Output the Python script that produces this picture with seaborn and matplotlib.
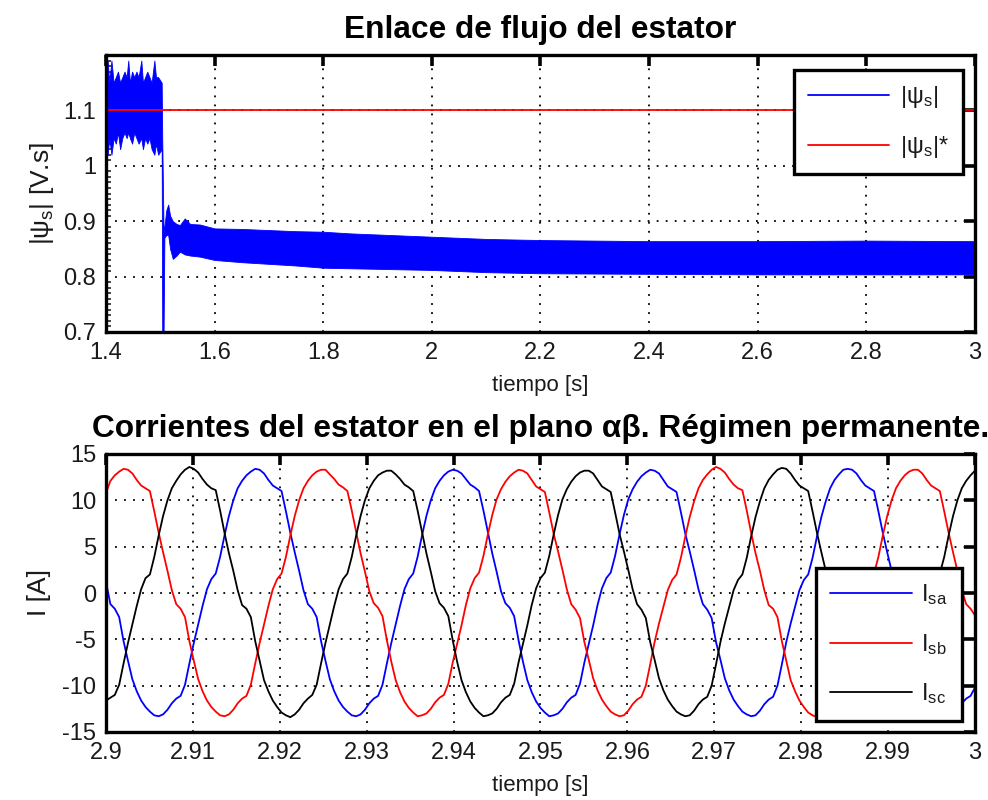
import numpy as np
import pandas as pd
import matplotlib
matplotlib.use("Agg")
import matplotlib.pyplot as plt
from matplotlib.lines import Line2D
from matplotlib.ticker import MultipleLocator, FormatStrFormatter
import seaborn as sns

# ---------------- stator flux magnitude (envelope of the ripple band) ----------------
flux_t = [1.400, 1.403, 1.406, 1.410, 1.414, 1.418, 1.422, 1.426, 1.430, 1.434,
          1.438, 1.441, 1.444, 1.448, 1.452, 1.456, 1.460, 1.465, 1.468, 1.472,
          1.476, 1.480, 1.484, 1.489, 1.492, 1.496, 1.5025, 1.5035, 1.5060, 1.5075,
          1.511, 1.5145, 1.518, 1.523, 1.530, 1.536, 1.545, 1.555, 1.573, 1.600,
          1.650, 1.700, 1.750, 1.800, 1.850, 1.900, 2.000, 2.100, 2.200, 2.400,
          2.600, 2.800, 3.000]
flux_hi = [1.16, 1.19, 1.15, 1.19, 1.15, 1.16, 1.17, 1.15, 1.16, 1.17,
           1.16, 1.19, 1.15, 1.17, 1.16, 1.17, 1.16, 1.19, 1.15, 1.16,
           1.17, 1.16, 1.15, 1.19, 1.16, 1.16, 1.15, 1.05, 0.88, 0.89,
           0.92, 0.93, 0.91, 0.90, 0.895, 0.893, 0.905, 0.895, 0.894, 0.887,
           0.886, 0.884, 0.882, 0.881, 0.878, 0.876, 0.872, 0.868, 0.866, 0.864,
           0.864, 0.865, 0.864]
flux_lo = [1.04, 1.02, 1.05, 1.02, 1.05, 1.04, 1.06, 1.03, 1.05, 1.06,
           1.05, 1.06, 1.05, 1.04, 1.06, 1.05, 1.04, 1.05, 1.03, 1.05,
           1.04, 1.05, 1.03, 1.02, 1.04, 1.02, 1.03, 0.70, 0.70, 0.87,
           0.875, 0.875, 0.85, 0.832, 0.838, 0.845, 0.84, 0.838, 0.836, 0.830,
           0.826, 0.823, 0.82, 0.816, 0.815, 0.814, 0.812, 0.808, 0.806, 0.805,
           0.804, 0.804, 0.804]
flux_ref = 1.1

# ---------------- stator phase currents, 2.9 s .. 3.0 s ----------------
i_sa = [1.2, -1.2, -1.7, -2.6, -5.2, -7.3, -9.3, -10.6, -11.6, -12.3,
        -12.8, -13.2, -13.3, -13.1, -12.6, -11.9, -11.4, -11.1, -9.9, -7.6,
        -5.4, -3.4, -1.4, 0.4, 1.5, 2.1, 3.9, 6.2, 8.3, 10.0, 11.3, 12.1, 12.7, 13.1,
        13.4, 13.3, 12.9, 12.2, 11.6, 11.3, 11.0, 8.8, 6.5, 4.4, 2.4, 0.3, -1.2, -1.7, -2.6,
        -5.2, -7.3, -9.3, -10.6, -11.6, -12.3, -12.8, -13.2, -13.3, -13.1, -12.6, -11.9, -11.4, -11.1, -9.9,
        -7.6, -5.4, -3.4, -1.4, 0.4, 1.5, 2.1, 3.9, 6.2, 8.3, 10.0, 11.3, 12.1, 12.7, 13.1,
        13.3, 13.2, 12.9, 12.3, 11.7, 11.4, 11.0, 8.9, 6.6, 4.3, 2.3, 0.2, -1.1, -1.6, -2.5,
        -5.1, -7.4, -9.4, -10.7, -11.7, -12.4, -12.9, -13.3, -13.2, -13.0, -12.5, -11.8, -11.3, -11.0, -9.8,
        -7.5, -5.5, -3.5, -1.3, 0.5, 1.6, 2.2, 4.0, 6.3, 8.4, 10.1, 11.2, 12.0, 12.6, 13.0,
        13.3, 13.2, 12.9, 12.2, 11.5, 11.2, 10.9, 8.7, 6.4, 4.5, 2.5, 0.4, -1.2, -1.8, -2.7,
        -5.3, -7.2, -9.2, -10.5, -11.5, -12.2, -12.8, -13.1, -13.3, -13.2, -12.7, -12.0, -11.5, -11.2, -10.0,
        -7.7, -5.3, -3.3, -1.5, 0.3, 1.4, 2.0, 3.8, 6.1, 8.2, 9.9, 11.3, 12.2, 12.8, 13.3,
        13.4, 13.3, 12.9, 12.2, 11.6, 11.3, 11.0, 8.8, 6.5, 4.4, 2.4, 0.3, -1.2, -1.7, -2.6,
        -5.2, -7.3, -9.3, -10.6, -11.6, -12.3, -12.8, -13.2, -13.3, -13.1, -12.6, -11.9, -11.4, -11.1, -10.2]

i_sb = [10.8, 12.1, 12.7, 13.1,
        13.4, 13.3, 12.9, 12.2, 11.6, 11.3, 11.0, 8.8, 6.5, 4.4, 2.4, 0.3, -1.2, -1.7, -2.6,
        -5.2, -7.3, -9.3, -10.6, -11.6, -12.3, -12.8, -13.2, -13.3, -13.1, -12.6, -11.9, -11.4, -11.1, -9.9,
        -7.6, -5.4, -3.4, -1.4, 0.4, 1.5, 2.1, 3.9, 6.2, 8.3, 10.0, 11.3, 12.1, 12.7, 13.1,
        13.3, 13.3, 12.8, 12.3, 11.7, 11.4, 11.0, 8.9, 6.6, 4.3, 2.3, 0.2, -1.1, -1.6, -2.5,
        -5.1, -7.4, -9.4, -10.7, -11.7, -12.4, -12.9, -13.3, -13.2, -13.0, -12.5, -11.8, -11.3, -11.0, -9.8,
        -7.5, -5.5, -3.5, -1.3, 0.5, 1.6, 2.2, 4.0, 6.3, 8.4, 10.1, 11.2, 12.0, 12.6, 13.0,
        13.3, 13.2, 12.9, 12.2, 11.5, 11.2, 10.9, 8.7, 6.4, 4.5, 2.5, 0.4, -1.2, -1.8, -2.7,
        -5.3, -7.2, -9.2, -10.5, -11.5, -12.2, -12.8, -13.1, -13.3, -13.2, -12.7, -12.0, -11.5, -11.2, -10.0,
        -7.7, -5.3, -3.3, -1.5, 0.3, 1.4, 2.0, 3.8, 6.1, 8.2, 9.9, 11.3, 12.2, 12.8, 13.3,
        13.6, 13.4, 13.0, 12.3, 11.7, 11.3, 11.1, 8.9, 6.5, 4.3, 2.4, 0.3, -1.3, -1.7, -2.6,
        -5.2, -7.3, -9.4, -10.6, -11.6, -12.3, -12.9, -13.2, -13.4, -13.1, -12.6, -11.9, -11.4, -11.0, -9.9,
        -7.6, -5.4, -3.4, -1.4, 0.4, 1.5, 2.1, 3.9, 6.2, 8.3, 10.0, 11.3, 12.1, 12.7, 13.1,
        13.3, 13.3, 12.9, 12.2, 11.6, 11.3, 11.0, 8.8, 6.5, 4.4, 2.4, 0.3, -1.2, -1.7, -2.4]

i_sc = [-11.6, -11.3, -11.0, -9.9, -7.6, -5.4, -3.4, -1.4, 0.4, 1.6,
        2.0, 3.9, 6.2, 8.3, 10.0, 11.3, 12.1, 12.8, 13.3,
        13.6, 13.4, 13.0, 12.3, 11.7, 11.3, 11.1, 8.9, 6.5, 4.3, 2.4, 0.3, -1.3, -1.7, -2.6,
        -5.2, -7.3, -9.4, -10.6, -11.6, -12.3, -12.9, -13.2, -13.4, -13.1, -12.6, -11.9, -11.4, -11.0, -9.9,
        -7.6, -5.4, -3.4, -1.4, 0.4, 1.5, 2.1, 3.9, 6.2, 8.3, 10.0, 11.3, 12.1, 12.7, 13.0,
        13.2, 13.2, 12.8, 12.3, 11.7, 11.4, 11.0, 8.9, 6.6, 4.3, 2.3, 0.2, -1.1, -1.6, -2.5,
        -5.1, -7.4, -9.4, -10.7, -11.7, -12.4, -12.9, -13.3, -13.2, -13.0, -12.5, -11.8, -11.3, -11.0, -9.8,
        -7.5, -5.5, -3.5, -1.3, 0.5, 1.6, 2.2, 4.0, 6.3, 8.4, 10.1, 11.2, 12.0, 12.6, 13.0,
        13.2, 13.2, 12.9, 12.2, 11.5, 11.2, 10.9, 8.7, 6.4, 4.5, 2.5, 0.4, -1.2, -1.8, -2.7,
        -5.3, -7.2, -9.2, -10.5, -11.5, -12.2, -12.8, -13.1, -13.3, -13.2, -12.7, -12.0, -11.5, -11.2, -10.0,
        -7.7, -5.3, -3.3, -1.5, 0.3, 1.4, 2.0, 3.8, 6.1, 8.2, 9.9, 11.3, 12.2, 12.8, 13.3,
        13.5, 13.4, 12.9, 12.2, 11.6, 11.3, 11.0, 8.8, 6.5, 4.4, 2.4, 0.3, -1.2, -1.7, -2.6,
        -5.2, -7.3, -9.3, -10.6, -11.6, -12.3, -12.8, -13.2, -13.3, -13.1, -12.6, -11.9, -11.4, -11.1, -9.9,
        -7.6, -5.4, -3.4, -1.4, 0.4, 1.5, 2.1, 3.9, 6.2, 8.3, 10.0, 11.3, 12.1, 12.7, 13.2]

current_names = ["I$_\\mathregular{sa}$", "I$_\\mathregular{sb}$", "I$_\\mathregular{sc}$"]
current_colors = ["#0000ff", "#ff0000", "#000000"]
flux_names = ["|\u03c8$_\\mathregular{s}$|", "|\u03c8$_\\mathregular{s}$|*"]

t_start, t_end = 2.9, 3.0

# ---------------- style ----------------
sns.set_theme(style="white")
plt.rcParams.update({
    "font.family": ["Liberation Sans", "DejaVu Sans"],
    "text.color": "black",
    "axes.labelcolor": "black",
    "axes.titlecolor": "black",
    "axes.unicode_minus": False,
    "mathtext.fontset": "custom",
    "mathtext.rm": "Liberation Sans",
    "mathtext.it": "Liberation Sans",
    "mathtext.bf": "Liberation Sans:bold",
})
TICK_FONT = ["Liberation Sans Narrow", "Liberation Sans"]
GRID_STYLE = dict(color="black", linestyle=(0, (1, 4)), linewidth=1.3)


def style_axes(ax):
    for s in ax.spines.values():
        s.set_linewidth(2.4)
        s.set_color("black")
    ax.tick_params(which="major", direction="in", length=8, width=2.6,
                   top=True, right=True, labelsize=17, colors="black", pad=7)
    for lab in ax.get_xticklabels() + ax.get_yticklabels():
        lab.set_family(TICK_FONT)
        lab.set_color("#1a1a1a")
    ax.grid(True, **GRID_STYLE)
    ax.set_axisbelow(True)


fig = plt.figure(figsize=(9.88, 8.0), dpi=100)
ax1 = fig.add_axes([0.1073, 0.585, 0.8795, 0.34625])
ax2 = fig.add_axes([0.1073, 0.085, 0.8795, 0.3475])

# ---- top: flux magnitude ----
ax1.fill_between(flux_t, flux_lo, flux_hi, color="#0000ff", linewidth=0.6)
sns.lineplot(x=[flux_t[0], flux_t[-1]], y=[flux_ref, flux_ref], ax=ax1,
             color="#ff0000", linewidth=1.3)
ax1.set_xlim(1.4, 3.0)
ax1.set_ylim(0.7, 1.2)
ax1.xaxis.set_major_locator(MultipleLocator(0.2))
ax1.set_yticks([0.7, 0.8, 0.9, 1.0, 1.1])
ax1.yaxis.set_minor_locator(MultipleLocator(0.01))
ax1.xaxis.set_major_formatter(FormatStrFormatter("%g"))
ax1.yaxis.set_major_formatter(FormatStrFormatter("%g"))
style_axes(ax1)
ax1.tick_params(which="minor", direction="in", length=3.5, width=1.2,
                left=True, right=False, top=False, bottom=False)
ax1.set_title("Enlace de flujo del estator", fontsize=22.8, fontweight="bold",
              pad=12, color="black")
ax1.set_xlabel("tiempo [s]", fontsize=16, labelpad=8, color="#1a1a1a")
ax1.set_ylabel("|\u03c8$_\\mathregular{s}$| [V.s]", fontsize=19, labelpad=5, color="#1a1a1a")

h1 = [Line2D([], [], color="#0000ff", lw=1.3), Line2D([], [], color="#ff0000", lw=1.3)]
leg1 = ax1.legend(h1, flux_names, loc="upper right", bbox_to_anchor=(0.9862, 0.9458),
                  borderaxespad=0, fancybox=False, framealpha=1, edgecolor="black",
                  fontsize=17, handlelength=3.45, handletextpad=0.45, labelspacing=1.0,
                  borderpad=0.6)
leg1.get_frame().set_linewidth(2.4)
for txt in leg1.get_texts():
    txt.set_color("#1a1a1a")

# ---- bottom: phase currents ----
t_i = np.linspace(t_start, t_end, len(i_sa))
df = pd.DataFrame({"t": t_i, current_names[0]: i_sa,
                   current_names[1]: i_sb, current_names[2]: i_sc})
long = df.melt(id_vars="t", var_name="fase", value_name="I")
sns.lineplot(data=long, x="t", y="I", hue="fase", palette=current_colors,
             ax=ax2, linewidth=1.3, legend=False, sort=False)
ax2.set_xlim(t_start, t_end)
ax2.set_ylim(-15, 15)
ax2.set_xticks(np.round(np.arange(2.9, 3.0001, 0.01), 2))
ax2.set_yticks(np.arange(-15, 16, 5))
ax2.xaxis.set_major_formatter(FormatStrFormatter("%g"))
ax2.yaxis.set_major_formatter(FormatStrFormatter("%g"))
style_axes(ax2)
ax2.set_title("Corrientes del estator en el plano \u03b1\u03b2. R\u00e9gimen permanente.",
              fontsize=22.8, fontweight="bold", pad=12, color="black")
ax2.set_xlabel("tiempo [s]", fontsize=16, labelpad=8, color="#1a1a1a")
ax2.set_ylabel("I [A]", fontsize=19, labelpad=8, color="#1a1a1a")

h2 = [Line2D([], [], color=c, lw=1.3) for c in current_colors]
leg2 = ax2.legend(h2, current_names, loc="upper right", bbox_to_anchor=(0.985, 0.590),
                  borderaxespad=0, fancybox=False, framealpha=1, edgecolor="black",
                  fontsize=17, handlelength=3.45, handletextpad=0.4, labelspacing=1.05,
                  borderpad=0.6)
leg2.get_frame().set_linewidth(2.4)
for txt in leg2.get_texts():
    txt.set_color("#1a1a1a")

fig.savefig("out.png", dpi=100)
